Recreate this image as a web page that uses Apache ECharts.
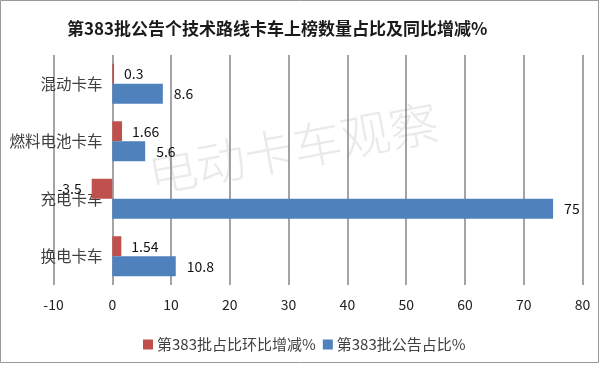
<!DOCTYPE html>
<html><head><meta charset="utf-8">
<script src="https://cdn.jsdelivr.net/npm/echarts@6/dist/echarts.min.js"></script>
<style>html,body{margin:0;padding:0;background:#fff}#c{width:600px;height:365px}</style>
</head><body><div id="c"></div>
<script>
const categories = ['混动卡车', '燃料电池卡车', '充电卡车', '换电卡车'];
const changeValues = [0.3, 1.66, -3.5, 1.54];
const shareValues = [8.6, 5.6, 75, 10.8];
const seriesNames = ['第383批占比环比增减%', '第383批公告占比%'];
const titleText = '第383批公告个技术路线卡车上榜数量占比及同比增减%';
const watermark = '电动卡车观察';

const FONT = '"Noto Sans CJK SC", "Noto Sans", sans-serif';
const chart = echarts.init(document.getElementById('c'), null, {renderer: 'canvas'});
chart.setOption({
  animation: false,
  backgroundColor: '#fff',
  title: {text: titleText, left: 62, top: 15, textStyle: {fontFamily: FONT, fontSize: 17, fontWeight: 'bold', color: '#1a1a1a'}},
  legend: {
    left: 138, top: 332, itemWidth: 10, itemHeight: 10, itemGap: 7,
    icon: 'rect',
    textStyle: {fontFamily: FONT, fontSize: 15, color: '#404040', padding: [0, 0, 0, -1]},
    data: seriesNames
  },
  grid: {left: 53.5, right: 17.5, top: 55, bottom: 80, containLabel: false, outerBoundsMode: 'none'},
  xAxis: {
    type: 'value', min: -10, max: 80, interval: 10,
    axisLine: {show: false}, axisTick: {show: false},
    splitLine: {lineStyle: {color: '#868686', width: 1.5}},
    axisLabel: {fontFamily: FONT, fontSize: 14, color: '#222', margin: 13}
  },
  yAxis: {
    type: 'category', data: categories, inverse: true,
    axisLine: {show: false},
    axisTick: {show: false},
    axisLabel: {fontFamily: FONT, fontSize: 15.5, color: '#404040', margin: -49}
  },
  graphic: [
    {type: 'text', x: 293, y: 148, rotation: 10.6 * Math.PI / 180, silent: true, z: -1,
     style: {text: watermark, fontFamily: FONT, fontSize: 49, fontWeight: 300, fill: '#eaeaea', textAlign: 'center', textVerticalAlign: 'middle'}},
    {type: 'rect', shape: {x: 0.5, y: 0.5, width: 598, height: 362}, style: {fill: 'none', stroke: '#999', lineWidth: 1}, silent: true}
  ],
  series: [
    {
      name: seriesNames[0], type: 'bar', barWidth: 20, barGap: '0%',
      itemStyle: {color: '#C0504D'},
      data: changeValues.map(v => ({value: v, label: {position: v < 0 ? 'left' : 'right'}})),
      label: {show: true, distance: 10, fontFamily: FONT, fontSize: 14, color: '#111'}
    },
    {
      name: seriesNames[1], type: 'bar', barWidth: 20, barGap: '0%',
      itemStyle: {color: '#4F81BD'},
      data: shareValues,
      label: {show: true, position: 'right', distance: 11, fontFamily: FONT, fontSize: 14, color: '#111'}
    }
  ]
});
</script></body></html>
